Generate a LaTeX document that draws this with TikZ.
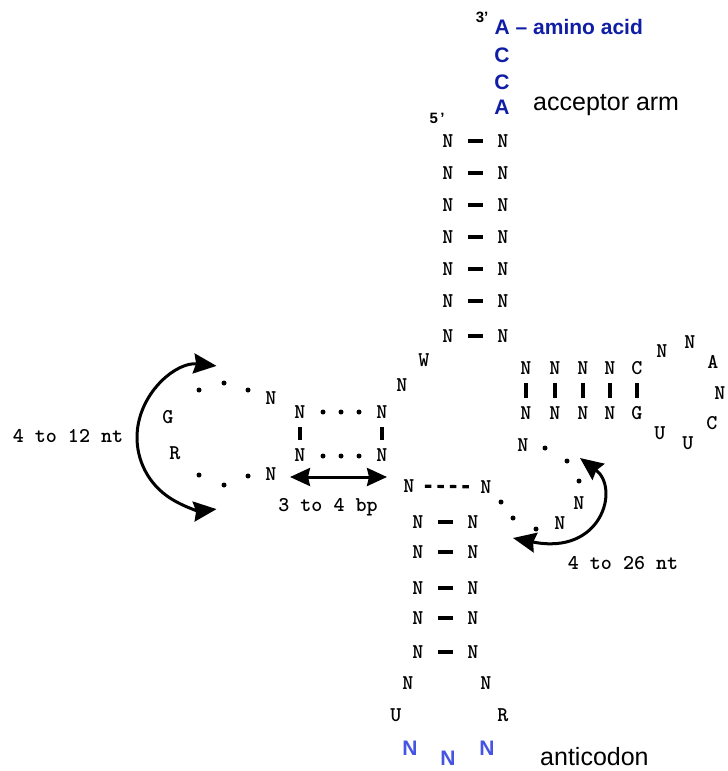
\documentclass[tikz,border=0pt]{standalone}
\usepackage{fontspec}
\setmainfont{Liberation Sans}
\usetikzlibrary{arrows.meta,calc}
\definecolor{accblue}{RGB}{16,30,165}
\definecolor{antblue}{RGB}{70,85,225}
\tikzset{
  nt/.style={font=\ttfamily\bfseries\fontsize{21}{21}\selectfont, inner sep=0pt},
  lab/.style={font=\ttfamily\bfseries\fontsize{21}{21}\selectfont, inner sep=0pt, anchor=base},
  accl/.style={font=\bfseries\fontsize{21}{21}\selectfont, text=accblue, inner sep=0pt, anchor=base},
  antl/.style={font=\bfseries\fontsize{21}{21}\selectfont, text=antblue, inner sep=0pt, anchor=base},
  big/.style={font=\fontsize{25}{25}\selectfont, inner sep=0pt, anchor=base west},
  prime/.style={font=\bfseries\fontsize{15}{15}\selectfont, inner sep=0pt},
  bp/.style={line width=3.2pt},
  dotf/.style={fill=black},
  arr/.style={line width=3pt, {Stealth[length=23pt,width=20pt,inset=2.5pt]}-{Stealth[length=23pt,width=20pt,inset=2.5pt]}},
  arrs/.style={line width=3pt, {Stealth[length=20pt,width=18pt,inset=2pt]}-{Stealth[length=20pt,width=18pt,inset=2pt]}}
}
\begin{document}
\begin{tikzpicture}[x=1pt,y=-1pt]
\useasboundingbox (0,0) rectangle (728,771);
% acceptor end
\node[prime] (p3) at (482,17) {3’};
\node[accl, anchor=base west] (aa) at (494.5,34) {A – amino acid};
\node[accl] (c1) at (502,62) {C};
\node[accl] (c2) at (502,89) {C};
\node[accl] (a1) at (502,114) {A};
\node[big] (accarm) at (533,110) {acceptor arm};
\node[prime] (p5) at (437,118) {5\,’};
% acceptor stem
\foreach \y [count=\i] in {141,173,205,237,269,301,336}{
  \node[nt] (aL\i) at (448,\y) {N};
  \node[nt] (aR\i) at (503,\y) {N};
  \draw[bp] ($(aL\i)!0.37!(aR\i)$) -- ($(aL\i)!0.63!(aR\i)$);
}
\node[nt] (jW) at (424,360) {W};
\node[nt] (jN) at (402,385) {N};
% D stem
\node[nt] (dTL) at (300,412) {N};
\node[nt] (dTR) at (382,412) {N};
\node[nt] (dBL) at (300,455) {N};
\node[nt] (dBR) at (382,455) {N};
\draw[bp] ($(dTL)!0.36!(dBL)$) -- ($(dTL)!0.64!(dBL)$);
\draw[bp] ($(dTR)!0.36!(dBR)$) -- ($(dTR)!0.64!(dBR)$);
\foreach \x in {323,341,359}{
  \fill[dotf] (\x,412) circle (2.5);
  \fill[dotf] (\x,456) circle (2.5);
}
% D loop
\node[nt] (dN1) at (271,398) {N};
\node[nt] (dG) at (168,417) {G};
\node[nt] (dR) at (175,453) {R};
\node[nt] (dN2) at (271,474) {N};
\foreach \p in {(248,390),(224,383),(199,390),(199,475),(224,485),(248,476)}
  \fill[dotf] \p circle (2.5);
% arrows left
\coordinate (lc) at (209,437.5);
\draw[arr] ($(lc)+(-84:72)$) arc[start angle=-84, end angle=-276, radius=72];
\node[lab] (l412) at (68,442) {4 to 12 nt};
\coordinate (bpL) at (290,477);
\coordinate (bpR) at (387,477);
\draw[arrs] (bpL) -- (bpR);
\node[lab] (l34) at (328,511) {3 to 4 bp};
% T stem
\foreach \x/\t/\b [count=\i] in {526/N/N,555/N/N,583/N/N,610/N/N,637/C/G}{
  \node[nt] (tT\i) at (\x,368) {\t};
  \node[nt] (tB\i) at (\x,413) {\b};
  \draw[bp] ($(tT\i)!0.34!(tB\i)$) -- ($(tT\i)!0.66!(tB\i)$);
}
% T loop
\node[nt] (tl1) at (662,351) {N};
\node[nt] (tl2) at (690,342) {N};
\node[nt] (tl3) at (713,362) {A};
\node[nt] (tl4) at (720,393) {N};
\node[nt] (tl5) at (712,423) {C};
\node[nt] (tl6) at (688,443) {U};
\node[nt] (tl7) at (660,433) {U};
% variable region
\node[nt] (vN1) at (523,445) {N};
\node[nt] (vN2) at (579,503) {N};
\node[nt] (vN3) at (560,523) {N};
\foreach \p in {(545,448),(567,461),(579,481),(536,529),(513,518),(501,502)}
  \fill[dotf] \p circle (2.5);
\coordinate (rt) at (580,458);
\coordinate (rb) at (513,538);
\draw[arr] (rt) .. controls (620,488) and (602,556) .. (rb);
\node[lab] (l426) at (623,569) {4 to 26 nt};
% anticodon stem
\node[nt] (acN1) at (409,486) {N};
\node[nt] (acN2) at (486,487) {N};
\draw[bp, dash pattern=on 6.5pt off 6pt] ($(acN1)!0.205!(acN2)$) -- ($(acN1)!0.78!(acN2)$);
\foreach \y [count=\i] in {522,552,588,618,652}{
  \node[nt] (cL\i) at (418,\y) {N};
  \node[nt] (cR\i) at (473,\y) {N};
  \draw[bp] ($(cL\i)!0.37!(cR\i)$) -- ($(cL\i)!0.63!(cR\i)$);
}
% anticodon loop
\node[nt] (alN1) at (408,683) {N};
\node[nt] (alN2) at (486,683) {N};
\node[nt] (alU) at (396,715) {U};
\node[nt] (alR) at (503,715) {R};
\node[antl] (ac1) at (410,755) {N};
\node[antl] (ac2) at (448,765) {N};
\node[antl] (ac3) at (487,755) {N};
\node[big] (antic) at (540,765) {anticodon};
\end{tikzpicture}
\end{document}
